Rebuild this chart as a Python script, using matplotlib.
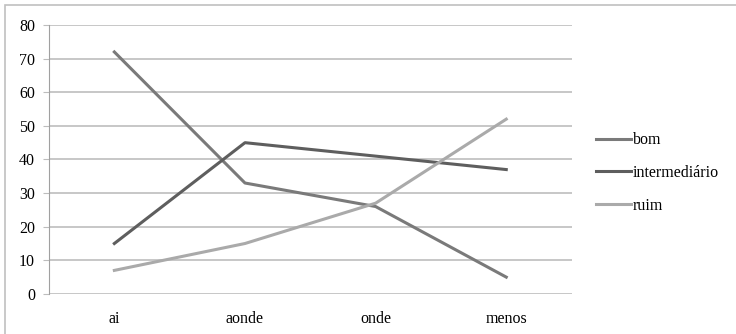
import matplotlib
matplotlib.use('Agg')
import matplotlib.pyplot as plt
from matplotlib.patches import Rectangle

# dados
categorias = ['ai', 'aonde', 'onde', 'menos']
bom = [72, 33, 26, 5]
intermediario = [15, 45, 41, 37]
ruim = [7, 15, 27, 52]

plt.rcParams['font.family'] = ['Liberation Serif', 'DejaVu Serif']

fig = plt.figure(figsize=(7.36, 3.34), dpi=100)
ax = fig.add_axes([0.0666, 0.12, 0.71, 0.805])

x = range(len(categorias))
ax.plot(x, bom, color='#7a7a7a', lw=2.2, label='bom')
ax.plot(x, intermediario, color='#5e5e5e', lw=2.2, label='intermediário')
ax.plot(x, ruim, color='#aaaaaa', lw=2.2, label='ruim')

ax.set_xlim(-0.5, 3.5)
ax.set_ylim(0, 80)
ax.set_yticks(range(0, 81, 10))
ax.set_xticks(list(x))
ax.set_xticklabels(categorias)
ax.grid(True, axis='y', color='#bdbdbd', lw=1.2)
ax.set_axisbelow(True)
for s in ['top', 'right', 'bottom']:
    ax.spines[s].set_visible(False)
ax.spines['left'].set_color('#a0a0a0')
ax.tick_params(axis='y', length=4, color='#bdbdbd', labelsize=11.5, pad=6)
ax.tick_params(axis='x', length=0, labelsize=11.5, pad=12)

leg = ax.legend(loc='center left', bbox_to_anchor=(1.035, 0.45), frameon=False,
                fontsize=11.5, handlelength=2.2, handletextpad=0.1,
                labelspacing=1.05, borderaxespad=0)

# moldura externa
fig.patches.append(Rectangle((5 / 736, -0.1), 1.2, 1 - 5 / 334 + 0.1,
                             transform=fig.transFigure, fill=False,
                             edgecolor='#c0c0c0', lw=1.2))

fig.savefig('out.png', dpi=100)
